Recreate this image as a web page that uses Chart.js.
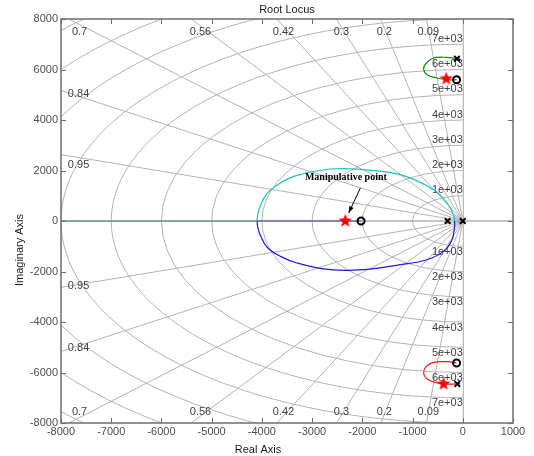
<!DOCTYPE html>
<html>
<head>
<meta charset="utf-8">
<title>Root Locus</title>
<script src="https://cdn.jsdelivr.net/npm/chart.js@4.4.1/dist/chart.umd.min.js"></script>
<style>
    html, body { margin: 0; padding: 0; background: #fff; }
    #rl { display: block; }
</style>
</head>
<body>
<canvas id="rl" width="534" height="456"></canvas>
<script>
// ---- 数据----
const xTicks = [-8000, -7000, -6000, -5000, -4000, -3000, -2000, -1000, 0, 1000];
const yTicks = [-8000, -6000, -4000, -2000, 0, 2000, 4000, 6000, 8000];

// sgrid: 阻尼比 / 自然频率
const zetaValues = [0.09, 0.2, 0.3, 0.42, 0.56, 0.7, 0.84, 0.95];
const wnValues = [1000, 2000, 3000, 4000, 5000, 6000, 7000, 8000, 9000, 10000, 11000];
const wnLabels = ['1e+03', '2e+03', '3e+03', '4e+03', '5e+03', '6e+03', '7e+03'];

const poles = [{ x: -302, y: 0 }, { x: 0, y: 0 }, { x: -115, y: 6428 }, { x: -109, y: -6455 }];
const zeros = [{ x: -2025, y: 0 }, { x: -123, y: 5596 }, { x: -123, y: -5624 }];
const chosenPoints = [{ x: -2340, y: 0 }, { x: -328, y: 5636 }, { x: -382, y: -6455 }];

const realLeftBranch = [{ x: -8000, y: 0 }, { x: -4095, y: 0 }];
const realMidBranch = [{ x: -4095, y: 0 }, { x: -2025, y: 0 }];

const upperBranch = [
    { x: -163, y: 0 }, { x: -183, y: 250 }, { x: -314, y: 713 }, { x: -581, y: 1240 },
    { x: -1243, y: 1834 }, { x: -1974, y: 2032 }, { x: -2636, y: 2059 }, { x: -3299, y: 1806 },
    { x: -3631, y: 1505 }, { x: -3900, y: 1080 }, { x: -4040, y: 560 }, { x: -4085, y: 230 },
    { x: -4095, y: 0 }
];
const lowerBranch = [
    { x: -163, y: 0 }, { x: -163, y: -214 }, { x: -215, y: -741 }, { x: -382, y: -1204 },
    { x: -712, y: -1533 }, { x: -1243, y: -1731 }, { x: -1974, y: -1929 }, { x: -2636, y: -1929 },
    { x: -3299, y: -1663 }, { x: -3631, y: -1402 }, { x: -3900, y: -1030 }, { x: -4040, y: -520 },
    { x: -4085, y: -220 }, { x: -4095, y: 0 }
];
const upperLoop = [
    { x: -115, y: 6428 }, { x: -314, y: 6479 }, { x: -581, y: 6455 }, { x: -726, y: 6257 },
    { x: -780, y: 6032 }, { x: -712, y: 5794 }, { x: -513, y: 5663 }, { x: -314, y: 5596 },
    { x: -123, y: 5596 }
];
const lowerLoop = [
    { x: -123, y: -5624 }, { x: -314, y: -5572 }, { x: -581, y: -5600 }, { x: -726, y: -5758 },
    { x: -780, y: -6020 }, { x: -712, y: -6257 }, { x: -547, y: -6392 }, { x: -382, y: -6455 },
    { x: -109, y: -6455 }
];
const upperTail = [{ x: -115, y: 6428 }, { x: -50, y: 6410 }];
const lowerTail = [{ x: -109, y: -6455 }, { x: -50, y: -6445 }];

// 标注
const noteText = 'Manipulative point';
const noteAt = { x: -2328, y: 1715 };
const arrowFrom = { x: -2039, y: 1307 };
const arrowTo = { x: -2272, y: 317 };

const FONT = '11px "Liberation Sans", Arial, sans-serif';

// 红色实心五角星
function makeStar(r) {
    const c = document.createElement('canvas');
    c.width = c.height = r * 2 + 2;
    const g = c.getContext('2d');
    g.translate(r + 1, r + 1);
    g.beginPath();
    for (let i = 0; i < 10; i++) {
        const rad = i % 2 === 0 ? r : r * 0.42;
        const a = -Math.PI / 2 + i * Math.PI / 5;
        g.lineTo(rad * Math.cos(a), rad * Math.sin(a));
    }
    g.closePath();
    g.fillStyle = '#ff0000';
    g.fill();
    return c;
}

// sgrid 网格 + 标签
const sgridPlugin = {
    id: 'sgrid',
    beforeDatasetsDraw(chart) {
        const { ctx, chartArea: a, scales: { x, y } } = chart;
        const ox = x.getPixelForValue(0), oy = y.getPixelForValue(0);
        ctx.save();
        ctx.beginPath();
        ctx.rect(a.left, a.top, a.right - a.left, a.bottom - a.top);
        ctx.clip();
        ctx.lineWidth = 1;
        ctx.strokeStyle = '#b3b3b3';
        wnValues.forEach(w => {
            const rx = ox - x.getPixelForValue(-w);
            const ry = oy - y.getPixelForValue(w);
            ctx.beginPath();
            ctx.ellipse(ox, oy, rx, ry, 0, Math.PI / 2, Math.PI * 1.5);
            ctx.stroke();
        });
        const far = 40000;
        zetaValues.forEach(z => {
            const px = x.getPixelForValue(-far * z);
            [1, -1].forEach(s => {
                const py = y.getPixelForValue(s * far * Math.sqrt(1 - z * z));
                ctx.beginPath();
                ctx.moveTo(ox, oy);
                ctx.lineTo(px, py);
                ctx.stroke();
            });
        });
        // 坐标轴线
        ctx.strokeStyle = '#a6a6a6';
        ctx.beginPath();
        ctx.moveTo(ox + 0.5, a.top); ctx.lineTo(ox + 0.5, a.bottom);
        ctx.stroke();
        ctx.strokeStyle = '#8a8a8a';
        ctx.beginPath();
        ctx.moveTo(a.left, oy); ctx.lineTo(a.right, oy);
        ctx.stroke();

        // 标签
        ctx.font = FONT;
        ctx.fillStyle = '#404040';
        ctx.textBaseline = 'middle';
        ctx.textAlign = 'right';
        wnLabels.forEach((t, i) => {
            const w = wnValues[i];
            ctx.fillText(t, ox, y.getPixelForValue(w) - 5.5);
            ctx.fillText(t, ox, y.getPixelForValue(-w) + 5.5);
        });
        const zetaPos = {
            '0.09': [-686, 7500, -7570], '0.2': [-1562, 7500, -7570], '0.3': [-2417, 7500, -7570],
            '0.42': [-3571, 7500, -7570], '0.56': [-5223, 7500, -7570], '0.7': [-7630, 7500, -7570],
            '0.84': [-7650, 5042, -5018], '0.95': [-7650, 2202, -2590]
        };
        ctx.textAlign = 'center';
        zetaValues.forEach(z => {
            const key = String(z);
            const p = zetaPos[key];
            ctx.fillText(key, x.getPixelForValue(p[0]), y.getPixelForValue(p[1]));
            ctx.fillText(key, x.getPixelForValue(p[0]), y.getPixelForValue(p[2]));
        });
        ctx.restore();
    },
    afterDatasetsDraw(chart) {
        const { ctx, scales: { x, y } } = chart;
        ctx.save();
        ctx.font = 'bold 10px "Liberation Serif", "Times New Roman", serif';
        ctx.fillStyle = '#000';
        ctx.textAlign = 'center';
        ctx.textBaseline = 'middle';
        ctx.fillText(noteText, x.getPixelForValue(noteAt.x), y.getPixelForValue(noteAt.y));
        const x1 = x.getPixelForValue(arrowFrom.x), y1 = y.getPixelForValue(arrowFrom.y);
        const x2 = x.getPixelForValue(arrowTo.x), y2 = y.getPixelForValue(arrowTo.y);
        ctx.strokeStyle = '#000';
        ctx.lineWidth = 1;
        ctx.beginPath();
        ctx.moveTo(x1, y1); ctx.lineTo(x2, y2);
        ctx.stroke();
        const ang = Math.atan2(y2 - y1, x2 - x1);
        ctx.beginPath();
        ctx.moveTo(x2, y2);
        ctx.lineTo(x2 - 7 * Math.cos(ang - 0.35), y2 - 7 * Math.sin(ang - 0.35));
        ctx.lineTo(x2 - 7 * Math.cos(ang + 0.35), y2 - 7 * Math.sin(ang + 0.35));
        ctx.closePath();
        ctx.fill();
        ctx.restore();
    }
};

// 外框、内向刻度、标题
const framePlugin = {
    id: 'frame',
    afterDraw(chart) {
        const { ctx, chartArea: a, scales: { x, y } } = chart;
        ctx.save();
        ctx.strokeStyle = '#6e6e6e';
        ctx.lineWidth = 1;
        const tl = 5;
        x.ticks.forEach(t => {
            const px = Math.round(x.getPixelForValue(t.value)) + 0.5;
            ctx.beginPath();
            ctx.moveTo(px, a.bottom); ctx.lineTo(px, a.bottom - tl);
            ctx.moveTo(px, a.top); ctx.lineTo(px, a.top + tl);
            ctx.stroke();
        });
        y.ticks.forEach(t => {
            const py = Math.round(y.getPixelForValue(t.value)) + 0.5;
            ctx.beginPath();
            ctx.moveTo(a.left, py); ctx.lineTo(a.left + tl, py);
            ctx.moveTo(a.right, py); ctx.lineTo(a.right - tl, py);
            ctx.stroke();
        });
        ctx.lineWidth = 1.5;
        ctx.strokeRect(a.left, a.top, a.right - a.left, a.bottom - a.top);

        ctx.font = FONT;
        ctx.fillStyle = '#1a1a1a';
        ctx.textAlign = 'center';
        ctx.textBaseline = 'middle';
        ctx.fillText('Root Locus', (a.left + a.right) / 2, 10);
        ctx.fillText('Real Axis', 258, 450);
        ctx.translate(20, 250);
        ctx.rotate(-Math.PI / 2);
        ctx.fillText('Imaginary Axis', 0, 0);
        ctx.restore();
    }
};

const line = (data, color, tension) => ({
    data, showLine: true, borderColor: color, borderWidth: 1.2, pointRadius: 0,
    tension: tension, fill: false, order: 2
});

const datasets = [
    { data: poles, pointStyle: 'crossRot', pointRadius: 4, borderColor: '#000', borderWidth: 2, order: 0 },
    { data: zeros, pointStyle: 'circle', pointRadius: 3.5, borderColor: '#000', backgroundColor: 'rgba(0,0,0,0)', borderWidth: 2, order: 0 },
    { data: chosenPoints, pointStyle: makeStar(7), order: 0 },
    line(realLeftBranch, '#3a8c8c', 0),
    line(realMidBranch, '#4646a6', 0),
    line(upperBranch, '#1fc0c0', 0.4),
    line(lowerBranch, '#1a1ae6', 0.4),
    line(upperLoop, '#128a12', 0.4),
    line(lowerLoop, '#ff1a1a', 0.4),
    line(upperTail, '#1a1ae6', 0),
    line(lowerTail, '#1a1ae6', 0)
];

const tickFont = { family: '"Liberation Sans", Arial, sans-serif', size: 11 };

new Chart(document.getElementById('rl'), {
    type: 'scatter',
    data: { datasets },
    options: {
        responsive: false,
        animation: false,
        devicePixelRatio: 1,
        layout: { padding: { top: 19, right: 21, left: 0, bottom: 0 } },
        plugins: { legend: { display: false }, tooltip: { enabled: false } },
        scales: {
            x: {
                type: 'linear', min: xTicks[0], max: xTicks[xTicks.length - 1],
                afterBuildTicks: s => { s.ticks = xTicks.map(v => ({ value: v })); },
                ticks: { padding: 2, color: '#4d4d4d', font: tickFont, maxRotation: 0, autoSkip: false, callback: v => String(v) },
                grid: { display: false, drawTicks: false },
                border: { display: false },
                afterFit: s => { s.height = 33; }
            },
            y: {
                type: 'linear', min: yTicks[0], max: yTicks[yTicks.length - 1],
                afterBuildTicks: s => { s.ticks = yTicks.map(v => ({ value: v })); },
                ticks: { padding: 3, color: '#4d4d4d', font: tickFont, autoSkip: false, callback: v => String(v) },
                grid: { display: false, drawTicks: false },
                border: { display: false },
                afterFit: s => { s.width = 61; }
            }
        }
    },
    plugins: [sgridPlugin, framePlugin]
});
</script>
</body>
</html>
